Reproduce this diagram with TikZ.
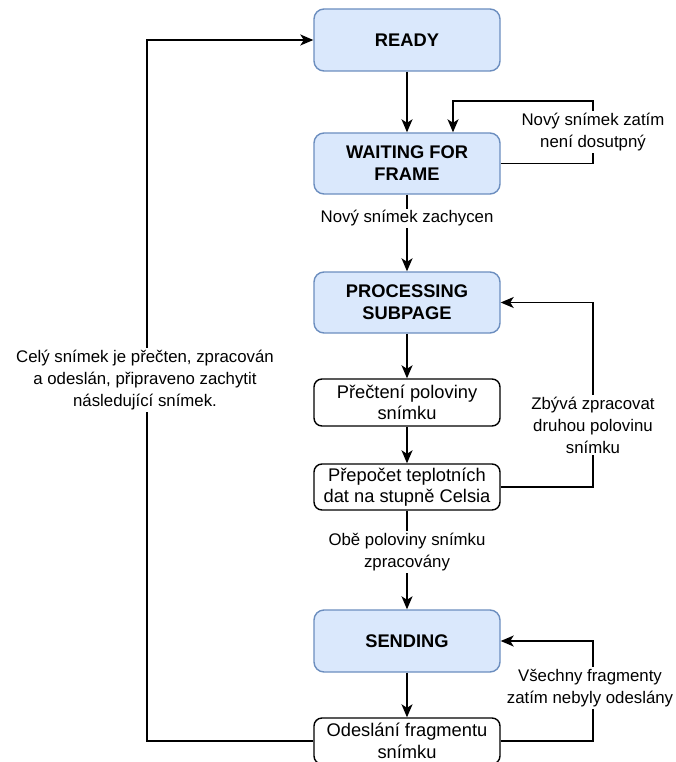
\documentclass[tikz,border=0pt]{standalone}
\usepackage{fontspec}
\setmainfont{Liberation Sans}
\usetikzlibrary{arrows.meta}
\begin{document}
\begin{tikzpicture}[x=1pt,y=-1pt,
  every node/.style={font=\fontsize{16.8}{22}\selectfont, align=center},
  state/.style={draw={rgb,255:red,108;green,142;blue,191}, fill={rgb,255:red,218;green,232;blue,252},
    rounded corners=10pt, line width=1.4pt, minimum width=186pt, minimum height=62pt, font=\fontsize{18.3}{22}\selectfont\bfseries},
  stepbox/.style={draw=black, fill=white, rounded corners=8pt, line width=1.4pt, minimum width=186pt, inner sep=2pt,
    font=\fontsize{18.3}{21.5}\selectfont},
  conn/.style={draw=black, line width=1.5pt, -{Stealth[length=13pt,width=11pt,inset=3.5pt]}},
  lbl/.style={fill=white, inner sep=2pt}
]
\useasboundingbox (0,0) rectangle (675,762);

% states
\node[state] (ready) at (407,40) {READY};
\node[state, minimum height=61pt] (wait) at (407,163.5) {WAITING FOR\\FRAME};
\node[state, minimum height=61pt] (proc) at (407,302.5) {PROCESSING\\SUBPAGE};
\node[stepbox, minimum height=47pt] (read) at (407,402.5) {Přečtení poloviny\\snímku};
\node[stepbox, minimum height=46pt] (conv) at (407,487) {Přepočet teplotních\\dat na stupně Celsia};
\node[state] (send) at (407,641) {SENDING};
\node[stepbox, minimum height=46pt] (frag) at (407,741) {Odeslání fragmentu\\snímku};

% loop turning points
\coordinate (wtop) at (593,101);
\coordinate (ptop) at (593,302.5);
\coordinate (stop) at (593,641);
\coordinate (rleft) at (147,40);

% main flow
\draw[conn] (ready) -- (wait);
\draw[conn] (wait) -- node[lbl, pos=0.31] {Nový snímek zachycen} (proc);
\draw[conn] (proc) -- (read);
\draw[conn] (read) -- (conv);
\draw[conn] (conv) -- node[lbl, pos=0.42] {Obě poloviny snímku\\zpracovány} (send);
\draw[conn] (send) -- (frag);

% self loops on the right
\draw[conn] (wait.east) -| (wtop) -| ([xshift=46pt]wait.north);
\node[lbl] (lwait) at (593,132) {Nový snímek zatím\\není dosutpný};

\draw[conn] (conv.east) -| (ptop) -- (proc.east);
\node[lbl] (lproc) at (593,425) {Zbývá zpracovat\\druhou polovinu\\snímku};

\draw[conn] (frag.east) -| (stop) -- (send.east);
\node[lbl] (lsend) at (590,688) {Všechny fragmenty\\zatím nebyly odeslány};

% return to READY
\draw[conn] (frag.west) -| (rleft) -- (ready.west);
\node[lbl] (lready) at (145,380) {Celý snímek je přečten, zpracován\\a odeslán, připraveno zachytit\\následující snímek.};
\end{tikzpicture}
\end{document}
